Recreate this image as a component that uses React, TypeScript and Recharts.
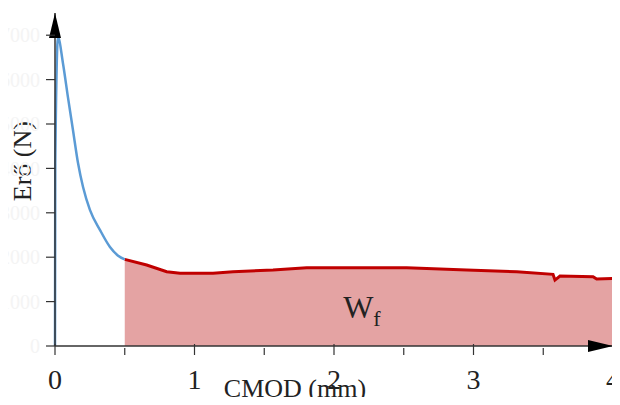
import { ComposedChart, Line, Area, XAxis, YAxis, ReferenceDot, Label } from 'recharts'

// CMOD (mm) / force (N) readings
const riseCmod = [0, 0.002, 0.0215, 0.057, 0.093, 0.129, 0.165, 0.201, 0.251, 0.323, 0.394, 0.45, 0.5]
const riseForce = [0, 4120, 6955, 6370, 5600, 4860, 4120, 3580, 3060, 2610, 2230, 2040, 1950]

const tailCmod = [0.5, 0.657, 0.801, 0.896, 1.133, 1.276, 1.563, 1.804, 2.521, 2.951, 3.31, 3.57, 3.584, 3.62, 3.857, 3.883, 4.0]
const tailForce = [1950, 1823, 1672, 1636, 1636, 1672, 1711, 1762, 1762, 1711, 1672, 1614, 1485, 1576, 1560, 1508, 1524]

const xTicks = [0, 0.5, 1, 1.5, 2, 2.5, 3, 3.5, 4]
const yTicks = [0, 1000, 2000, 3000, 4000, 5000, 6000, 7000]

const riseData = riseCmod.map((cmod, i) => ({ cmod, force: riseForce[i] }))
const tailData = tailCmod.map((cmod, i) => ({ cmod, force: tailForce[i] }))

const serif = '"Liberation Serif", "DejaVu Serif", serif'

const XTick = (props: any) => {
  const { x, y, payload } = props
  const major = Number.isInteger(payload.value)
  return (
    <g>
      <line x1={x} x2={x} y1={major ? y - 4 : y} y2={y + 7} stroke="#333" strokeWidth={1.2} />
      {major && (
        <text x={x} y={y + 41} textAnchor="middle" fontFamily={serif} fontSize={28} fill="#222">
          {payload.value}
        </text>
      )}
    </g>
  )
}

const WfLabel = (props: any) => {
  const { cx, cy } = props
  return (
    <text x={cx} y={cy} textAnchor="middle" fontFamily={serif} fontSize={32} fill="#222">
      W
      <tspan fontSize={22} dy={8}>f</tspan>
    </text>
  )
}

const App = () => {
  return (
    <div style={{ margin: -8 }}>
      <svg width={0} height={0} style={{ position: 'absolute' }}>
        <defs>
          <marker id="arrowHead" markerUnits="userSpaceOnUse" markerWidth={25} markerHeight={12}
            refX={25} refY={6} orient="auto-start-reverse">
            <path d="M0,0 L25,6 L0,12 z" fill="#000" />
          </marker>
        </defs>
      </svg>
      <ComposedChart width={620} height={405} margin={{ top: 13, right: 7, bottom: 0, left: 0 }}
        style={{ overflow: 'visible' }}>
        <XAxis
          type="number"
          dataKey="cmod"
          domain={[0, 4]}
          ticks={xTicks}
          interval={0}
          tickSize={0}
          tickLine={false}
          tick={<XTick />}
          height={59}
          axisLine={{ stroke: '#333', strokeWidth: 1.5, markerEnd: 'url(#arrowHead)' }}
        >
          <Label
            content={(p: any) => (
              <text x={p.viewBox.x + 240} y={p.viewBox.y + 51} textAnchor="middle"
                fontFamily={serif} fontSize={26} fill="#222">
                CMOD (mm)
              </text>
            )}
          />
        </XAxis>
        <YAxis
          type="number"
          dataKey="force"
          domain={[0, 7500]}
          ticks={yTicks}
          interval={0}
          width={55}
          tickSize={9}
          tickMargin={6}
          tickLine={{ stroke: '#333', strokeWidth: 1.2 }}
          tick={{ fill: '#f4f4f4', fontSize: 20, fontFamily: serif }}
          axisLine={{ stroke: '#333', strokeWidth: 1.5, markerStart: 'url(#arrowHead)' }}
        >
          <Label
            content={(p: any) => {
              const x = p.viewBox.x + 31
              const y = p.viewBox.y + p.viewBox.height * 0.445
              return (
                <text x={x} y={y} transform={`rotate(-90, ${x}, ${y})`} textAnchor="middle"
                  fontFamily={serif} fontSize={26} fill="#222">
                  Erő (N)
                </text>
              )
            }}
          />
        </YAxis>
        <Area
          data={tailData}
          dataKey="force"
          type="linear"
          stroke="#c00000"
          strokeWidth={3}
          fill="#e4a3a3"
          fillOpacity={1}
          isAnimationActive={false}
        />
        <Line
          data={riseData}
          dataKey="force"
          type="monotone"
          stroke="#5b9bd5"
          strokeWidth={2.5}
          dot={false}
          isAnimationActive={false}
        />
        <ReferenceDot x={2.2} y={630} r={0} shape={<WfLabel />} />
      </ComposedChart>
    </div>
  )
}

export default App
